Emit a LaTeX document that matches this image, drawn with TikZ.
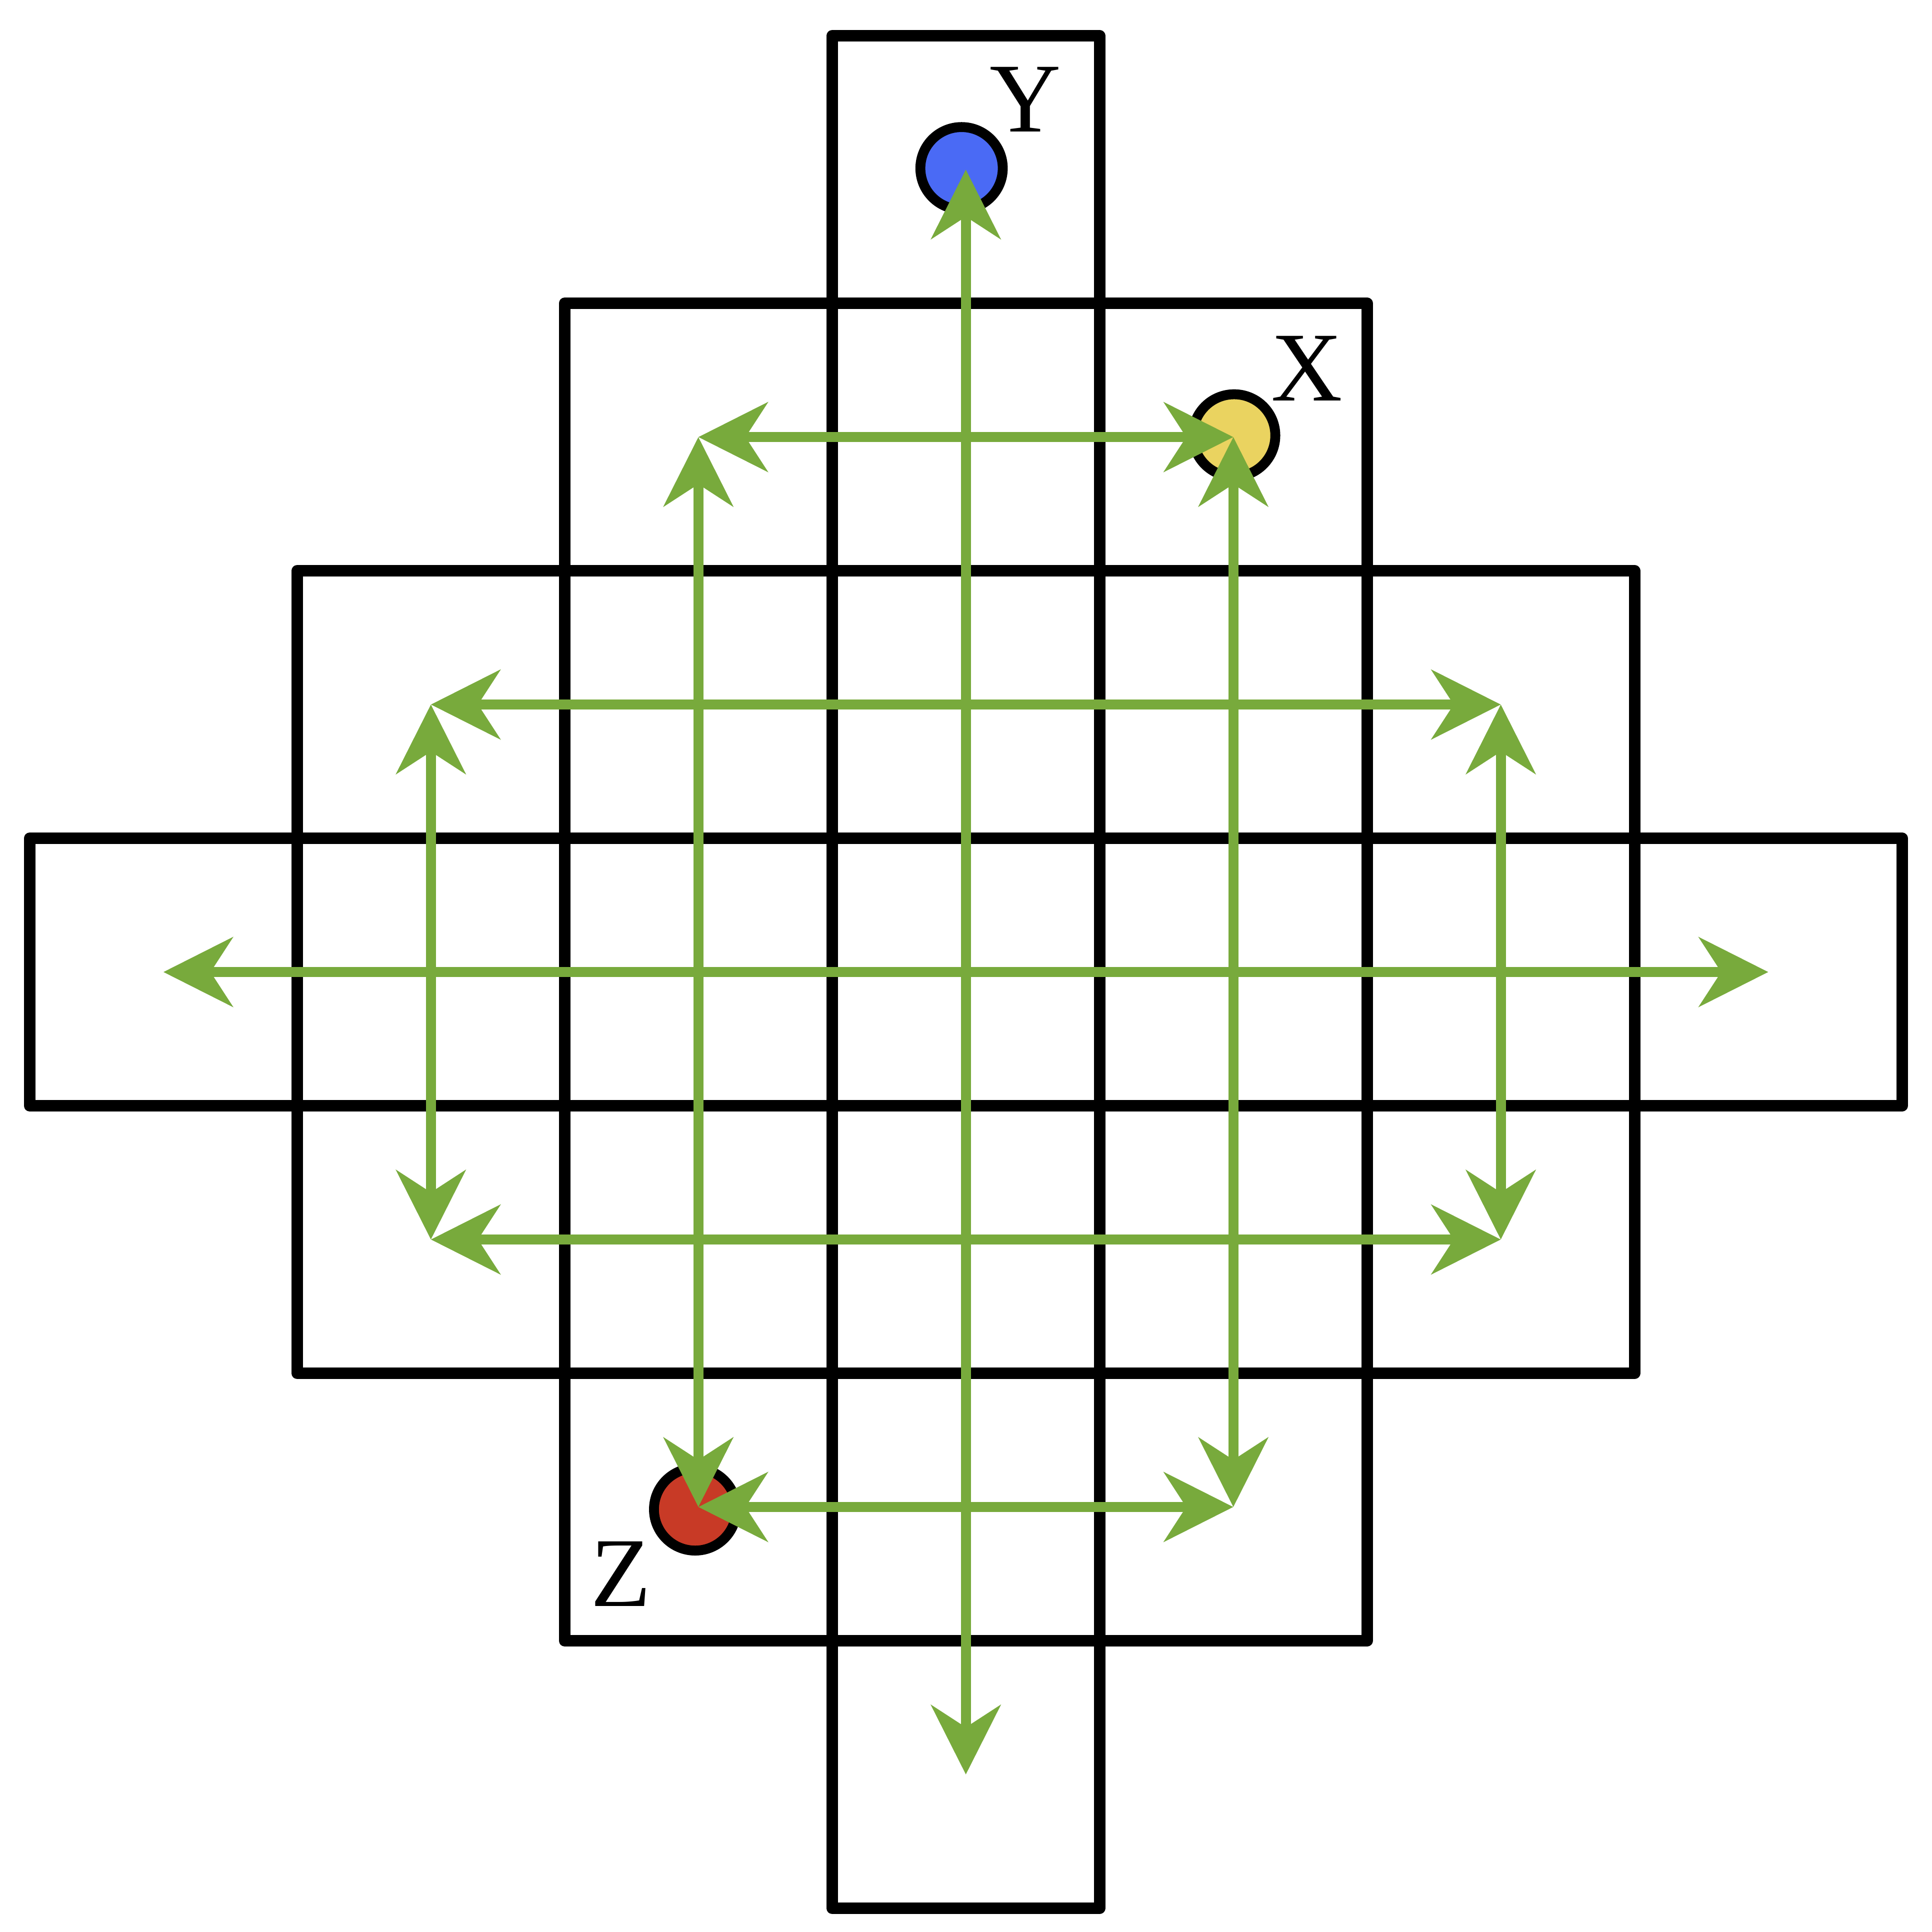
\documentclass[tikz,border=0pt]{standalone}
\usepackage{fontspec}
\setmainfont{Liberation Serif}
\usetikzlibrary{arrows.meta}
\definecolor{grn}{RGB}{120,170,60}
\definecolor{dotblue}{RGB}{74,106,245}
\definecolor{dotyellow}{RGB}{234,211,96}
\definecolor{dotred}{RGB}{200,58,38}
\begin{document}
\begin{tikzpicture}[x=1cm,y=1cm,
  frame/.style={draw=black, line width=0.043cm, line join=round},
  dot/.style={circle, draw=black, line width=0.037cm, minimum size=0.308cm, inner sep=0pt},
  tipg/.tip={Stealth[length=0.259cm,width=0.259cm,inset=0.083cm]},
  biarrow/.style={draw=grn, line width=0.037cm, tipg-tipg},
  lbl/.style={inner sep=0pt, font=\fontsize{10.5pt}{12pt}\selectfont}]
\useasboundingbox (-3.611,-3.589) rectangle (3.611,3.634);
% frames
\draw[frame] (-0.5,-3.5) rectangle (0.5,3.5);
\draw[frame] (-1.5,-2.5) rectangle (1.5,2.5);
\draw[frame] (-2.5,-1.5) rectangle (2.5,1.5);
\draw[frame] (-3.5,-0.5) rectangle (3.5,0.5);
% dots
\node[dot, fill=dotblue] (dY) at (-0.016,3.005) {};
\node[dot, fill=dotyellow] (dX) at (1.003,2.006) {};
\node[dot, fill=dotred] (dZ) at (-1.012,-2.009) {};
% grid points
\coordinate (pT) at (0,3);
\coordinate (pB) at (0,-3);
\coordinate (pL) at (-3,0);
\coordinate (pR) at (3,0);
\coordinate (a1) at (-1,2);
\coordinate (a2) at (1,2);
\coordinate (a3) at (-1,-2);
\coordinate (a4) at (1,-2);
\coordinate (b1) at (-2,1);
\coordinate (b2) at (2,1);
\coordinate (b3) at (-2,-1);
\coordinate (b4) at (2,-1);
% arrows
\draw[biarrow] (pB) -- (pT);
\draw[biarrow] (pL) -- (pR);
\draw[biarrow] (a1) -- (a2);
\draw[biarrow] (a3) -- (a4);
\draw[biarrow] (a1) -- (a3);
\draw[biarrow] (a2) -- (a4);
\draw[biarrow] (b1) -- (b2);
\draw[biarrow] (b3) -- (b4);
\draw[biarrow] (b1) -- (b3);
\draw[biarrow] (b2) -- (b4);
% labels
\node[lbl] (lY) at (0.223,3.262) {Y};
\node[lbl] (lX) at (1.275,2.257) {X};
\node[lbl] (lZ) at (-1.289,-2.251) {Z};
\end{tikzpicture}
\end{document}
